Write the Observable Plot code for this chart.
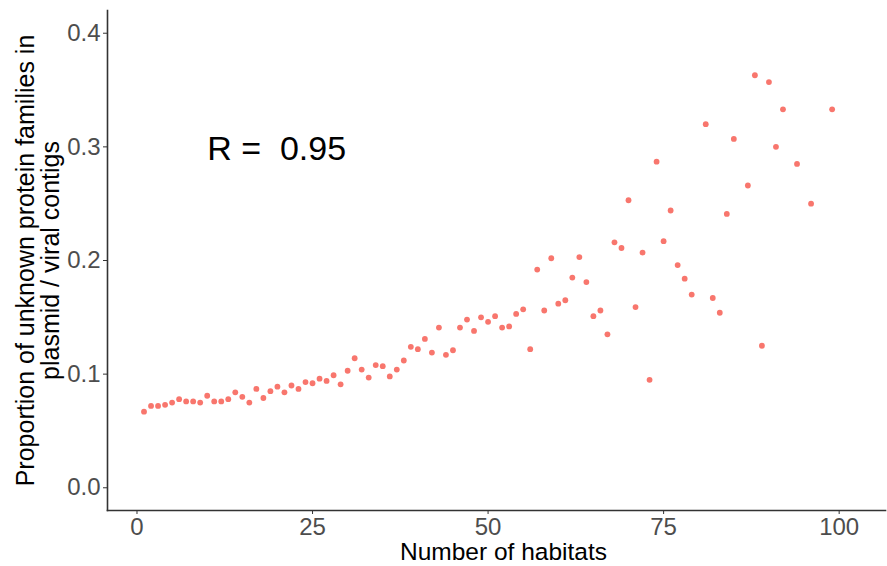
<!DOCTYPE html>
<html>
<head>
<meta charset="utf-8">
<script src="https://cdn.jsdelivr.net/npm/d3@7"></script>
<script src="https://cdn.jsdelivr.net/npm/@observablehq/plot@0.6"></script>
<style>
  html, body { margin: 0; padding: 0; background: #fff; }
  svg { font-family: "Liberation Sans", Arial, sans-serif; }
</style>
</head>
<body>
<div id="chart"></div>
<script>
const habitats = [1,2,3,4,5,6,7,8,9,10,11,12,13,14,15,16,17,18,19,20,
  21,22,23,24,25,26,27,28,29,30,31,32,33,34,35,36,37,38,39,40,
  41,42,43,44,45,46,47,48,49,50,51,52,53,54,55,56,57,58,59,60,
  61,62,63,64,65,66,67,68,69,70,71,72,73,74,75,76,77,78,79,
  81,82,83,84,85,87,88,89,90,91,92,94,96,99];
const proportion = [0.067,0.072,0.072,0.073,0.075,0.078,0.076,0.076,0.075,0.081,
  0.076,0.076,0.078,0.084,0.080,0.075,0.087,0.079,0.085,0.089,
  0.084,0.090,0.087,0.093,0.092,0.096,0.094,0.099,0.091,0.103,
  0.114,0.104,0.097,0.108,0.107,0.098,0.104,0.112,0.124,0.122,
  0.131,0.119,0.141,0.117,0.121,0.141,0.148,0.138,0.150,0.146,
  0.151,0.141,0.142,0.153,0.157,0.122,0.192,0.156,0.202,0.162,
  0.165,0.185,0.203,0.181,0.151,0.156,0.135,0.216,0.211,0.253,
  0.159,0.207,0.095,0.287,0.217,0.244,0.196,0.184,0.170,
  0.320,0.167,0.154,0.241,0.307,0.266,0.363,0.125,0.357,0.300,0.333,
  0.285,0.250,0.333];
const xTicks = [0, 25, 50, 75, 100];
const yTicks = [0.0, 0.1, 0.2, 0.3, 0.4];
const xTitle = "Number of habitats";
const yTitle = "Proportion of unknown protein families in\nplasmid / viral contigs";
const annotation = {x: 10, y: 0.3, text: "R =\u00a0 0.95"};

const data = habitats.map((h, i) => ({habitats: h, proportion: proportion[i]}));

const chart = Plot.plot({
  width: 887,
  height: 566,
  marginLeft: 107,
  marginRight: 2,
  marginTop: 10,
  marginBottom: 56,
  style: {fontFamily: "'Liberation Sans', Arial, sans-serif", background: "#fff"},
  x: {domain: [-4.2, 106.6], ticks: xTicks, tickFormat: d => String(d)},
  y: {domain: [-0.02, 0.42], ticks: yTicks, tickFormat: d => d.toFixed(1)},
  marks: [
    Plot.axisX({ticks: xTicks, tickFormat: d => String(d), tickSize: 4, tickPadding: 3,
      fontSize: 24, color: "#4D4D4D", stroke: "#333333", label: null}),
    Plot.axisY({ticks: yTicks, tickFormat: d => d.toFixed(1), tickSize: 4, tickPadding: 3,
      fontSize: 24, color: "#4D4D4D", stroke: "#333333", label: null}),
    Plot.frame({anchor: "left", stroke: "#333333", strokeWidth: 1.6}),
    Plot.frame({anchor: "bottom", stroke: "#333333", strokeWidth: 1.6}),
    Plot.dot(data, {x: "habitats", y: "proportion", r: 2.9, fill: "#F8766D", stroke: "none"}),
    Plot.text([annotation], {x: "x", y: "y", text: "text", textAnchor: "start",
      fontSize: 34, fill: "#000", dy: 2}),
    Plot.text([xTitle], {frameAnchor: "bottom", text: d => d, dy: 49, dx: 7,
      textAnchor: "middle", fontSize: 24.5, fill: "#000"}),
    Plot.text([yTitle], {frameAnchor: "left", text: d => d, rotate: -90, dx: -69.5,
      textAnchor: "middle", fontSize: 25, lineHeight: 1.0, fill: "#000"})
  ]
});
document.getElementById("chart").appendChild(chart);
</script>
</body>
</html>
